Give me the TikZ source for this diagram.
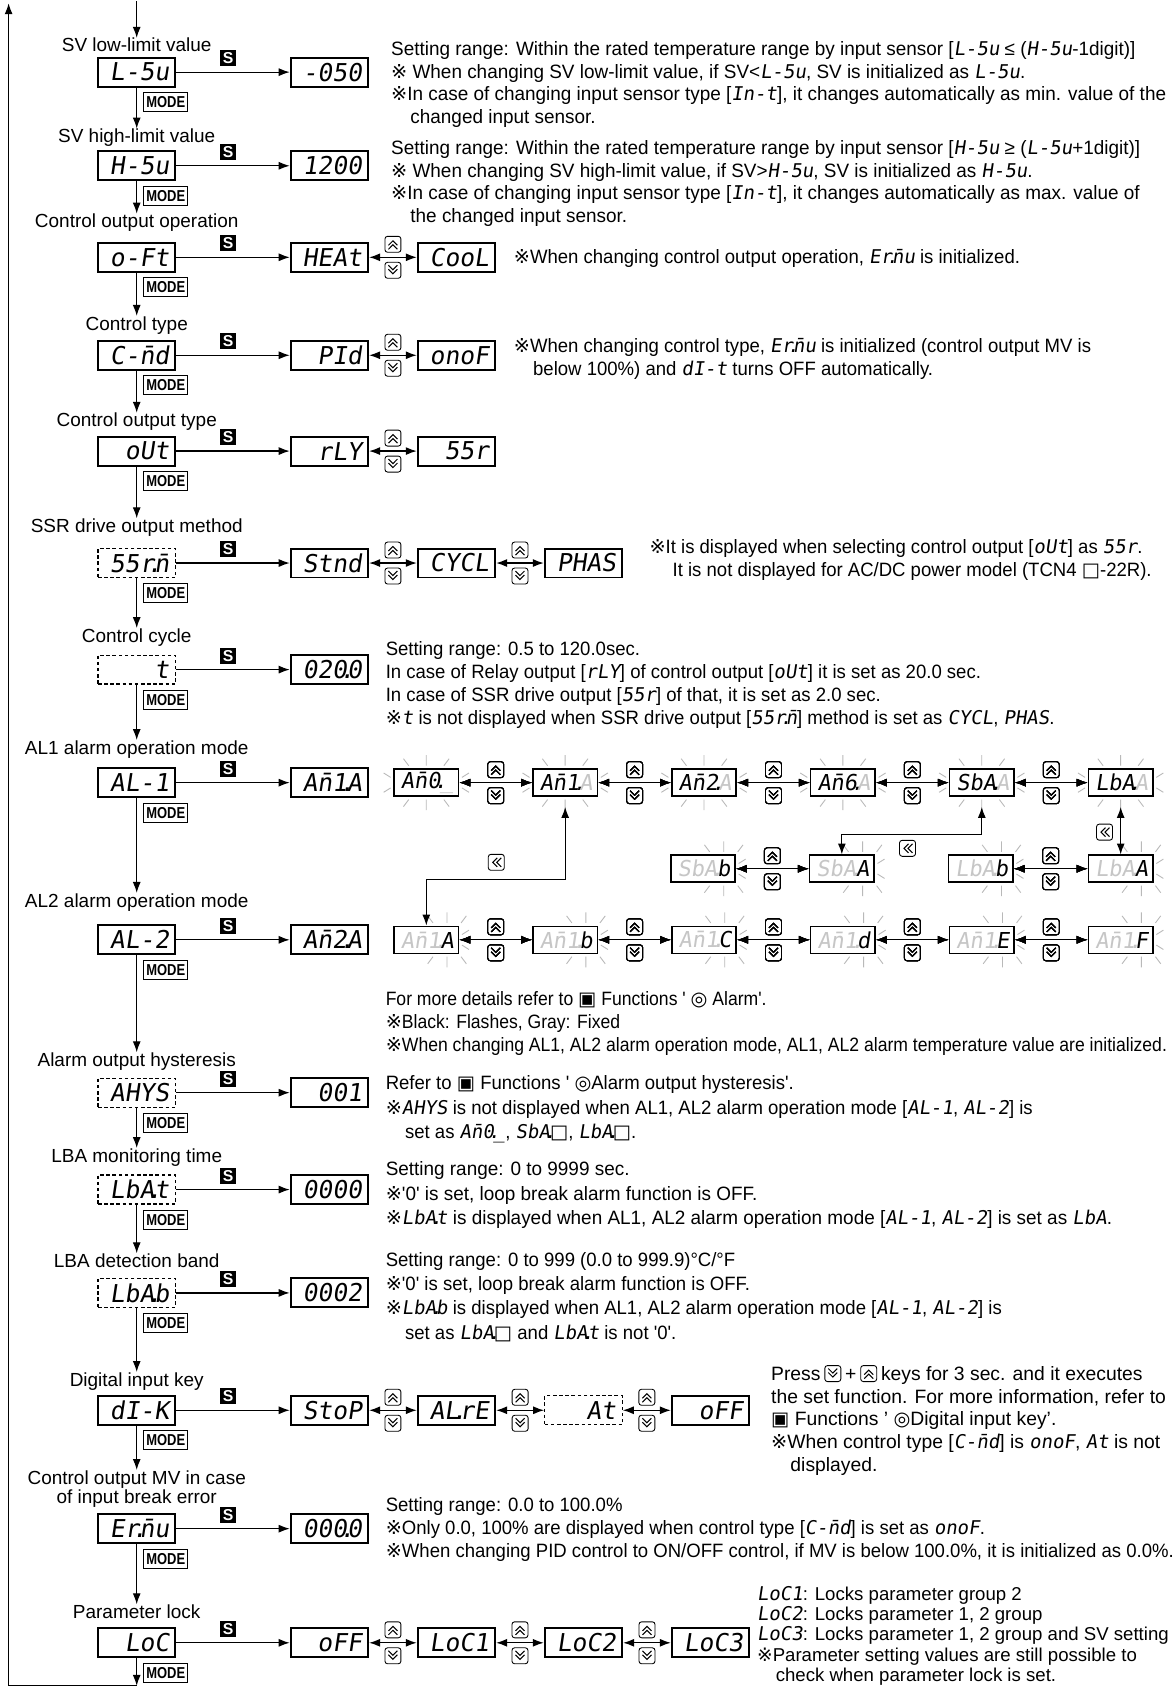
\documentclass[tikz,border=0pt]{standalone}
\usepackage{fontspec}
\setmainfont{Liberation Sans}
\newfontfamily\larghofont{Liberation Sans}[FakeStretch=0.98]
\newfontfamily\strettofont{Liberation Sans}[FakeStretch=0.96]
\newfontfamily\strettissimo{Liberation Sans}[FakeStretch=0.91]
\newfontfamily\modefont{Liberation Sans}[FakeStretch=0.82]
\newfontfamily\segfont{DejaVu Sans Mono}[FakeSlant=0.15]
\newfontfamily\symfont{DejaVu Sans}
\usetikzlibrary{arrows.meta, positioning}

\newcommand{\kome}{{\symfont ※}}
\newcommand{\quadro}{{\symfont ▣}}
\newcommand{\cerchio}{{\symfont ◎}}
\newcommand{\vuoto}{{\symfont □}}
\newcommand{\sg}[1]{{\segfont\fontsize{10.8}{10.8}\selectfont #1}}
\newcommand{\dt}{\kern-.3em.\kern-.3em}
\newcommand{\gr}[1]{\textcolor{gray!45}{#1}}

\tikzset{
    freccia/.style={-{Latex[length=2.2mm,width=1.6mm]}, line width=0.7pt},
    doppia/.style={{Latex[length=2.2mm,width=1.6mm]}-{Latex[length=2.2mm,width=1.6mm]}, line width=0.7pt},
    disp/.style={draw, line width=1.1pt, minimum height=0.58cm, text width=1.3cm, inner xsep=0.125cm,
        inner ysep=0pt, align=right, font=\segfont\fontsize{14}{14}\selectfont},
    dispt/.style={disp, line width=0.7pt, dash pattern=on 2pt off 1.5pt},
    flash/.style={draw, line width=0.9pt, minimum height=0.54cm, text width=1.1cm, inner xsep=0.095cm,
        inner ysep=0pt, align=right, font=\segfont\fontsize{12.5}{12.5}\selectfont},
    lbl/.style={font=\fontsize{10.8}{11}\selectfont, align=center, inner sep=0pt},
    skey/.style={fill=black, text=white, font=\bfseries\fontsize{9}{9}\selectfont, minimum size=0.32cm, inner sep=0pt},
    tastomode/.style={draw, line width=0.6pt, font=\modefont\bfseries\fontsize{9}{9}\selectfont,
        minimum width=0.88cm, minimum height=0.38cm, inner sep=0pt},
    nota/.style={anchor=north west, align=left, inner sep=0pt, font=\strettofont\fontsize{11}{13}\selectfont},
    notab/.style={nota, font=\fontsize{11}{13}\selectfont},
    notal/.style={nota, font=\larghofont\fontsize{11}{13}\selectfont},
    raggio/.style={gray!55, line width=0.5pt},
    ukey/.style={draw, line width=0.5pt, rounded corners=1.5pt, minimum width=0.32cm, minimum height=0.32cm, inner sep=0pt,
        path picture={\draw[sharp corners, line width=0.6pt, shift={(path picture bounding box.center)}]
            (-0.09cm,-0.1cm) -- (0cm,-0.01cm) -- (0.09cm,-0.1cm)
            (-0.09cm,-0.02cm) -- (0cm,0.07cm) -- (0.09cm,-0.02cm);}},
    dkey/.style={draw, line width=0.5pt, rounded corners=1.5pt, minimum width=0.32cm, minimum height=0.32cm, inner sep=0pt,
        path picture={\draw[sharp corners, line width=0.6pt, shift={(path picture bounding box.center)}]
            (-0.09cm,0.1cm) -- (0cm,0.01cm) -- (0.09cm,0.1cm)
            (-0.09cm,0.02cm) -- (0cm,-0.07cm) -- (0.09cm,0.02cm);}},
    bkey/.style={draw, line width=0.5pt, rounded corners=1.5pt, minimum width=0.32cm, minimum height=0.32cm, inner sep=0pt,
        path picture={\draw[sharp corners, line width=0.6pt, shift={(path picture bounding box.center)}]
            (0.1cm,-0.09cm) -- (0.01cm,0cm) -- (0.1cm,0.09cm)
            (0.02cm,-0.09cm) -- (-0.07cm,0cm) -- (0.02cm,0.09cm);}}
}

% raggi attorno al display che lampeggia
\newcommand{\lampo}[1]{%
    \draw[raggio] ([yshift=1.5pt]#1.north) -- ++(0,6pt)
        ([yshift=-1.5pt]#1.south) -- ++(0,-6pt)
        ([xshift=-10pt,yshift=1.5pt]#1.north) -- ++(-3pt,4pt)
        ([xshift=10pt,yshift=1.5pt]#1.north) -- ++(3pt,4pt)
        ([xshift=-10pt,yshift=-1.5pt]#1.south) -- ++(-3pt,-4pt)
        ([xshift=10pt,yshift=-1.5pt]#1.south) -- ++(3pt,-4pt)
        ([xshift=-1.5pt,yshift=3pt]#1.west) -- ++(-4pt,2.5pt)
        ([xshift=-1.5pt,yshift=-3pt]#1.west) -- ++(-4pt,-2.5pt)
        ([xshift=1.5pt,yshift=3pt]#1.east) -- ++(4pt,2.5pt)
        ([xshift=1.5pt,yshift=-3pt]#1.east) -- ++(4pt,-2.5pt);}
\newcommand{\lampodx}[1]{%
    \draw[raggio] ([xshift=-7pt,yshift=1.5pt]#1.north east) -- ++(0,6pt)
        ([xshift=-7pt,yshift=-1.5pt]#1.south east) -- ++(0,-6pt)
        ([xshift=-15pt,yshift=1.5pt]#1.north east) -- ++(-3pt,4pt)
        ([xshift=1pt,yshift=1.5pt]#1.north east) -- ++(3pt,4pt)
        ([xshift=-15pt,yshift=-1.5pt]#1.south east) -- ++(-3pt,-4pt)
        ([xshift=1pt,yshift=-1.5pt]#1.south east) -- ++(3pt,-4pt)
        ([xshift=1.5pt,yshift=3pt]#1.east) -- ++(4pt,2.5pt)
        ([xshift=1.5pt,yshift=-3pt]#1.east) -- ++(4pt,-2.5pt);}
% freccia doppia con i tasti su/giu
\newcommand{\scambio}[3]{%
    \draw[doppia] (#2) -- (#3) coordinate[midway] (#1);
    \node[ukey] (#1u) at ([yshift=0.26cm]#1) {};
    \node[dkey] (#1d) at ([yshift=-0.26cm]#1) {};}

\begin{document}
\begin{tikzpicture}[x=0.02154cm, y=-0.02154cm]
    % Parametri
    \pgfmathsetmacro{\xc}{127}
    \pgfmathsetmacro{\xs}{212}
    \pgfmathsetmacro{\xm}{154}
    \pgfmathsetmacro{\xv}{306}
    \pgfmathsetmacro{\dv}{118}
    \fill[white] (0,0) rectangle (1091,1568);
    \useasboundingbox (0,0) rectangle (1091,1568);

    % Colonna principale
    \foreach \i/\yl/\yb/\tipo/\testo/\etic in {
        1/42/67/disp/{L-5u}/{SV low-limit value},
        2/128/154/disp/{H-5u}/{SV high-limit value},
        3/207/239/disp/{o-Ft}/{Control output operation},
        4/302/330/disp/{C-\=nd}/{Control type},
        5/392/419/disp/{oUt}/{Control output type},
        6/490/523/dispt/{55r\dt\=n}/{SSR drive output method},
        7/592/622/dispt/{t}/{Control cycle},
        8/696/727/disp/{AL-1}/{AL1 alarm operation mode},
        9/838/873/disp/{AL-2}/{AL2 alarm operation mode},
        10/986/1015/dispt/{AHYS}/{Alarm output hysteresis},
        11/1075/1105/dispt/{LbA\dt t}/{LBA monitoring time},
        12/1171/1201/dispt/{LbA\dt b}/{LBA detection band},
        13/1283/1310/disp/{dI-K}/{Digital input key},
        14/1383/1420/disp/{Er\dt\=nu}/{Control output MV in case\\of input break error},
        15/1497/1526/disp/{LoC}/{Parameter lock}}
    {
        \node[lbl] (l\i) at (\xc,\yl) {\etic};
        \node[\tipo] (p\i) at (\xc,\yb) {\testo};
        \node[skey] (s\i) at (\xs,\yb-13) {S};
        \node[tastomode] (m\i) at (\xm,\yb+28) {MODE};
    }
    \foreach \i [evaluate=\i as \j using int(\i+1)] in {1,...,14}
        \draw[freccia] (p\i) -- (l\j);

    % Ritorno
    \coordinate (ingresso) at (\xc,1);
    \coordinate (fondo) at (\xc,1566);
    \coordinate (angolo) at (8,1566);
    \coordinate (cima) at (8,3);
    \draw[freccia] (ingresso) -- (l1);
    \draw[freccia] (p15) -- (fondo);
    \draw[freccia] (fondo) -- (angolo) -- (cima);

    % Valori
    \node[disp] (v1) at (\xv,67) {-050};
    \node[disp] (v2) at (\xv,154) {1200};
    \node[disp] (v3) at (\xv,239) {HEAt};
    \node[disp] (v3b) at (\xv+\dv,239) {CooL};
    \node[disp] (v4) at (\xv,330) {PId};
    \node[disp] (v4b) at (\xv+\dv,330) {onoF};
    \node[disp] (v5) at (\xv,419) {rLY};
    \node[disp] (v5b) at (\xv+\dv,419) {55r};
    \node[disp] (v6) at (\xv,523) {Stnd};
    \node[disp] (v6b) at (\xv+\dv,523) {CYCL};
    \node[disp] (v6c) at (\xv+2*\dv,523) {PHAS};
    \node[disp] (v7) at (\xv,622) {020\dt0};
    \node[disp] (v8) at (\xv,727) {A\=n1\dt A};
    \node[disp] (v9) at (\xv,873) {A\=n2\dt A};
    \node[disp] (v10) at (\xv,1015) {001};
    \node[disp] (v11) at (\xv,1105) {0000};
    \node[disp] (v12) at (\xv,1201) {0002};
    \node[disp] (v13) at (\xv,1310) {StoP};
    \node[disp] (v13b) at (\xv+\dv,1310) {AL\dt rE};
    \node[dispt] (v13c) at (\xv+2*\dv,1310) {At};
    \node[disp] (v13d) at (\xv+3*\dv,1310) {oFF};
    \node[disp] (v14) at (\xv,1420) {000\dt0};
    \node[disp] (v15) at (\xv,1526) {oFF};
    \node[disp] (v15b) at (\xv+\dv,1526) {LoC1};
    \node[disp] (v15c) at (\xv+2*\dv,1526) {LoC2};
    \node[disp] (v15d) at (\xv+3*\dv,1526) {LoC3};
    \foreach \i in {1,...,15}
        \draw[freccia] (p\i) -- (v\i);
    \scambio{k3}{v3}{v3b}
    \scambio{k4}{v4}{v4b}
    \scambio{k5}{v5}{v5b}
    \scambio{k6}{v6}{v6b}
    \scambio{k6b}{v6b}{v6c}
    \scambio{k13}{v13}{v13b}
    \scambio{k13b}{v13b}{v13c}
    \scambio{k13c}{v13c}{v13d}
    \scambio{k15}{v15}{v15b}
    \scambio{k15b}{v15b}{v15c}
    \scambio{k15c}{v15c}{v15d}

    % Modi di allarme
    \foreach \k/\testo in {1/{A\=n0\dt\gr{\_}}, 2/{A\=n1\dt\gr{A}}, 3/{A\=n2\dt\gr{A}},
                           4/{A\=n6\dt\gr{A}}, 5/{SbA\dt\gr{A}}, 6/{LbA\dt\gr{A}}}
    {
        \node[flash] (a\k) at (267+129*\k,727) {\testo};
        \lampo{a\k}
    }
    \foreach \k/\c in {1/A, 2/b, 3/C, 4/d, 5/E, 6/F}
    {
        \node[flash] (b\k) at (267+129*\k,873) {\gr{A\=n1\dt}\c};
        \lampodx{b\k}
    }
    \node[flash] (c1) at (653,807) {\gr{SbA\dt}b};
    \node[flash] (c2) at (782,807) {\gr{SbA\dt}A};
    \node[flash] (c3) at (911,807) {\gr{LbA\dt}b};
    \node[flash] (c4) at (1041,807) {\gr{LbA\dt}A};
    \foreach \k in {1,...,4}
        \lampodx{c\k}
    \foreach \k [evaluate=\k as \j using int(\k+1)] in {1,...,5}
    {
        \scambio{ka\k}{a\k}{a\j}
        \scambio{kb\k}{b\k}{b\j}
    }
    \scambio{kc1}{c1}{c2}
    \scambio{kc2}{c3}{c4}
    % salti con il tasto indietro
    \coordinate (gA) at (461,817);
    \coordinate (gB) at (843,775);
    \node[bkey] (kA) at (461,801) {};
    \node[bkey] (kB) at (843,788) {};
    \node[bkey] (kC) at (1026,773) {};
    \draw[doppia, shorten >=0.2cm] (b1.north) |- (gA) -| (a2.south);
    \draw[doppia, shorten >=0.2cm] (c2.north) |- (gB) -| (a5.south);
    \draw[doppia, shorten <=0.2cm] (a6.south) -- (c4.north);

    % Note
    \node[notal] (n1) at (363,38) {Setting range: Within the rated temperature range by input sensor [\sg{L-5u} ≤ (\sg{H-5u}-1digit)]\\
        \kome\ When changing SV low-limit value, if SV<\sg{L-5u}, SV is initialized as \sg{L-5u}.\\
        \kome In case of changing input sensor type [\sg{In-t}], it changes automatically as min. value of the\\
        \hspace*{1em}changed input sensor.};
    \node[notal] (n2) at (363,130) {Setting range: Within the rated temperature range by input sensor [\sg{H-5u} ≥ (\sg{L-5u}+1digit)]\\
        \kome\ When changing SV high-limit value, if SV>\sg{H-5u}, SV is initialized as \sg{H-5u}.\\
        \kome In case of changing input sensor type [\sg{In-t}], it changes automatically as max. value of\\
        \hspace*{1em}the changed input sensor.};
    \node[nota] (n3) at (477,231) {\kome When changing control output operation, \sg{Er\dt\=nu} is initialized.};
    \node[nota] (n4) at (477,314) {\kome When changing control type, \sg{Er\dt\=nu} is initialized (control output MV is\\
        \hspace*{1em}below 100\%) and \sg{dI-t} turns OFF automatically.};
    \node[nota] (n6) at (603,501) {\kome It is displayed when selecting control output [\sg{oUt}] as \sg{55r}.\\
        \hspace*{1.2em}It is not displayed for AC/DC power model (TCN4 \vuoto-22R).};
    \node[nota] (n7) at (358,596) {Setting range: 0.5 to 120.0sec.\\
        In case of Relay output [\sg{rLY}] of control output [\sg{oUt}] it is set as 20.0 sec.\\
        In case of SSR drive output [\sg{55r}] of that, it is set as 2.0 sec.\\
        \kome\sg{t} is not displayed when SSR drive output [\sg{55r\dt\=n}] method is set as \sg{CYCL}, \sg{PHAS}.};
    \node[nota, font=\strettissimo\fontsize{11}{13}\selectfont] (n9) at (358,921) {For more details refer to \quadro\ Functions ' \cerchio\ Alarm'.\\
        \kome Black: Flashes, Gray: Fixed\\
        \kome When changing AL1, AL2 alarm operation mode, AL1, AL2 alarm temperature value are initialized.};
    \node[nota, font=\strettofont\fontsize{11}{13.8}\selectfont] (n10) at (358,999) {Refer to \quadro\ Functions ' \cerchio Alarm output hysteresis'.\\
        \kome\sg{AHYS} is not displayed when AL1, AL2 alarm operation mode [\sg{AL-1}, \sg{AL-2}] is\\
        \hspace*{1em}set as \sg{A\=n0\dt\_}, \sg{SbA\dt}\vuoto, \sg{LbA\dt}\vuoto.};
    \node[nota, font=\larghofont\fontsize{11}{13.8}\selectfont] (n11) at (358,1079) {Setting range: 0 to 9999 sec.\\
        \kome'0' is set, loop break alarm function is OFF.\\
        \kome\sg{LbA\dt t} is displayed when AL1, AL2 alarm operation mode [\sg{AL-1}, \sg{AL-2}] is set as \sg{LbA}.};
    \node[nota, font=\strettofont\fontsize{11}{13.8}\selectfont] (n12) at (358,1163) {Setting range: 0 to 999 (0.0 to 999.9)°C/°F\\
        \kome'0' is set, loop break alarm function is OFF.\\
        \kome\sg{LbA\dt b} is displayed when AL1, AL2 alarm operation mode [\sg{AL-1}, \sg{AL-2}] is\\
        \hspace*{1em}set as \sg{LbA\dt}\vuoto\ and \sg{LbA\dt t} is not '0'.};
    \node[notab, anchor=base west] (n13a) at (716,1282) {Press};
    \node[dkey, right=2pt of n13a] (n13k1) {};
    \path (n13k1.east |- n13a.base) ++(2pt,0) node[notab, anchor=base west] (n13b) {+};
    \path (n13b.east |- n13k1) ++(2pt,0) node[ukey, anchor=west] (n13k2) {};
    \path (n13k2.east |- n13a.base) ++(2pt,0) node[notab, anchor=base west] (n13c) {keys for 3 sec. and it executes};
    \node[notab] (n13) at (716,1290) {the set function. For more information, refer to\\
        \quadro\ Functions ' \cerchio Digital input key'.\\
        \kome When control type [\sg{C-\=nd}] is \sg{onoF}, \sg{At} is not\\
        \hspace*{1em}displayed.};
    \node[nota] (n14) at (358,1391) {Setting range: 0.0 to 100.0\%\\
        \kome Only 0.0, 100\% are displayed when control type [\sg{C-\=nd}] is set as \sg{onoF}.\\
        \kome When changing PID control to ON/OFF control, if MV is below 100.0\%, it is initialized as 0.0\%.};
    \node[notab, font=\fontsize{10.6}{11.6}\selectfont] (n15) at (703,1473) {\sg{LoC1}: Locks parameter group 2\\
        \sg{LoC2}: Locks parameter 1, 2 group\\
        \sg{LoC3}: Locks parameter 1, 2 group and SV setting\\
        \kome Parameter setting values are still possible to\\
        \hspace*{1em}check when parameter lock is set.};
\end{tikzpicture}
\end{document}
